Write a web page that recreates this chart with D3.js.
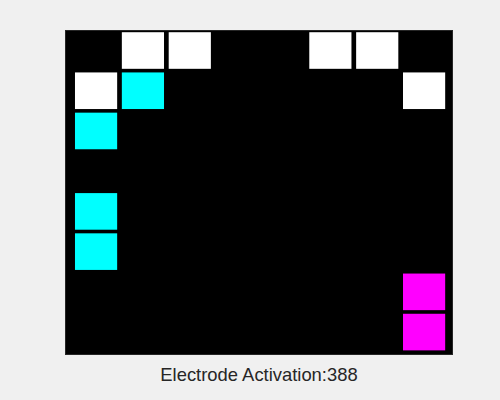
<!DOCTYPE html>
<html>
<head>
<meta charset="utf-8">
<script src="https://cdn.jsdelivr.net/npm/d3@7"></script>
<style>
  html, body { margin: 0; padding: 0; background: #f0f0f0; }
  svg { display: block; }
</style>
</head>
<body>
<svg id="chart" width="500" height="400"></svg>
<script>
// Electrode grid state: 0 = off (black), 1 = white, 2 = cyan, 3 = magenta
const rowIndex = [0, 1, 2, 3, 4, 5, 6, 7];
const colIndex = [0, 1, 2, 3, 4, 5, 6, 7];
const gridStates = [
  [0, 1, 1, 0, 0, 1, 1, 0],
  [1, 2, 0, 0, 0, 0, 0, 1],
  [2, 0, 0, 0, 0, 0, 0, 0],
  [0, 0, 0, 0, 0, 0, 0, 0],
  [2, 0, 0, 0, 0, 0, 0, 0],
  [2, 0, 0, 0, 0, 0, 0, 0],
  [0, 0, 0, 0, 0, 0, 0, 3],
  [0, 0, 0, 0, 0, 0, 0, 3]
];
const stateColors = ["#000000", "#ffffff", "#00ffff", "#ff00ff"];
const activationCount = 388;
const titleText = "Electrode Activation:" + activationCount;

const svg = d3.select("#chart");
const plotLeft = 65, plotRight = 453, plotTop = 30, plotBottom = 355;

const x = d3.scaleLinear().domain([-0.163, 8.117]).range([plotLeft, plotRight]);
const y = d3.scaleLinear().domain([-0.01, 8.07]).range([plotTop, plotBottom]);

// axes background
svg.append("rect")
  .attr("x", plotLeft).attr("y", plotTop)
  .attr("width", plotRight - plotLeft).attr("height", plotBottom - plotTop)
  .attr("fill", "#000000");

const cells = [];
rowIndex.forEach(r => colIndex.forEach(c => cells.push({ r, c, s: gridStates[r][c] })));

svg.append("g").selectAll("rect")
  .data(cells)
  .join("rect")
  .attr("x", d => x(d.c + 0.05))
  .attr("y", d => y(d.r + 0.045))
  .attr("width", d => x(d.c + 0.95) - x(d.c + 0.05))
  .attr("height", d => y(d.r + 0.955) - y(d.r + 0.045))
  .attr("fill", d => stateColors[d.s]);

// axes border
svg.append("rect")
  .attr("x", plotLeft + 0.5).attr("y", plotTop + 0.5)
  .attr("width", plotRight - plotLeft - 1).attr("height", plotBottom - plotTop - 1)
  .attr("fill", "none")
  .attr("stroke", "#262626")
  .attr("stroke-width", 1);

svg.append("text")
  .attr("x", (plotLeft + plotRight) / 2)
  .attr("y", 381)
  .attr("text-anchor", "middle")
  .attr("font-family", "'Liberation Sans', Arial, Helvetica, sans-serif")
  .attr("font-size", "18.4px")
  .attr("fill", "#262626")
  .text(titleText);
</script>
</body>
</html>
